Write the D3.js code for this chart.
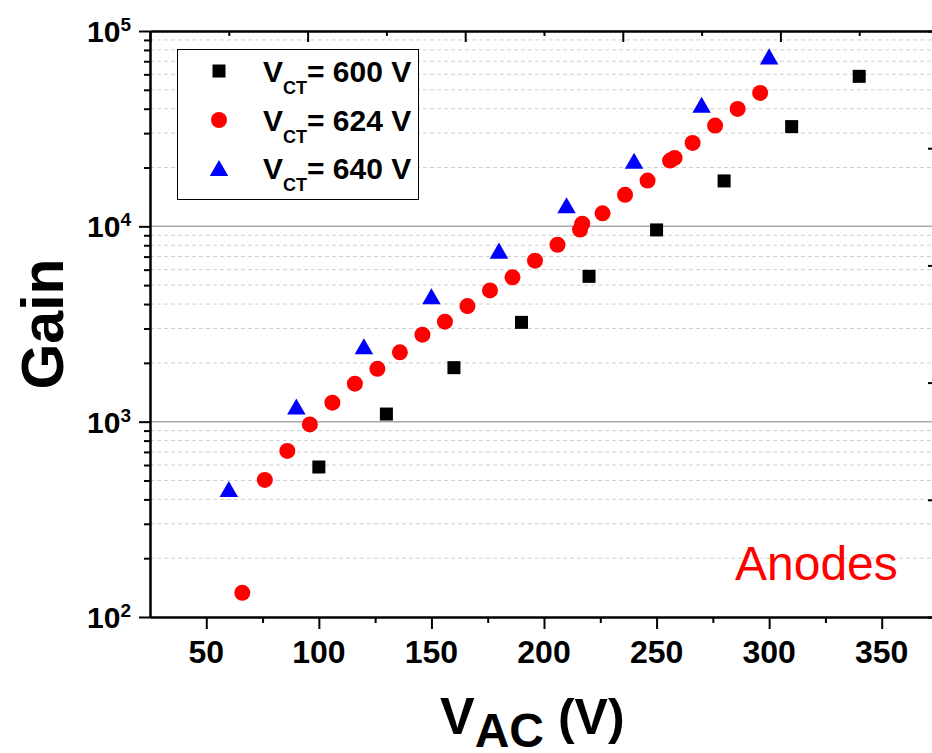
<!DOCTYPE html>
<html>
<head>
<meta charset="utf-8">
<script src="https://cdn.jsdelivr.net/npm/d3@7"></script>
<style>
  body { margin: 0; background: #fff; }
  svg { display: block; }
</style>
</head>
<body>
<div></div>
<script>
// Data
var vac600 = [100, 130, 160, 190, 220, 250, 280, 310, 340];
var gain600 = [586, 1094, 1890, 3224, 5546, 9585, 17080, 32400, 58600];

var vac624 = [66, 76, 86, 96, 106, 116, 126, 136, 146, 156, 166, 176, 186, 196, 206, 216, 217, 226, 236, 246, 256, 258, 266, 276, 286, 296];
var gain624 = [133, 503, 708, 968, 1251, 1565, 1864, 2265, 2790, 3250, 3908, 4699, 5483, 6669, 8050, 9620, 10320, 11660, 14490, 17140, 21700, 22390, 26720, 32780, 39900, 48200];

var vac640 = [60, 90, 120, 150, 180, 210, 240, 270, 300];
var gain640 = [452, 1197, 2430, 4381, 7510, 12810, 21680, 41970, 74150];

var xTicks = [50, 100, 150, 200, 250, 300, 350];
var xMinorTicks = [75, 125, 175, 225, 275, 325];
var yTicks = [100, 1000, 10000, 100000];
var legendLabels = ["600 V", "624 V", "640 V"];

let width = 932;
let height = 753;

let pLeft = 150, pRight = 938, pTop = 31, pBottom = 617;
let font = "'Liberation Sans', Arial, sans-serif";

let svg = d3.select("div").append("svg")
  .attr("width", width)
  .attr("height", height);

let x = d3.scaleLinear().domain([25, 375]).range([pLeft, pRight]);
let y = d3.scaleLog().domain([100, 100000]).range([pBottom, pTop]);

// minor values for grid and ticks
let yMinor = [];
[100, 1000, 10000].forEach(function(dec) {
  for (let k = 2; k <= 9; k++) yMinor.push(dec * k);
});

// Grid
svg.append("g").selectAll("line")
  .data(yMinor)
  .join("line")
  .attr("x1", pLeft).attr("x2", pRight)
  .attr("y1", d => y(d)).attr("y2", d => y(d))
  .style("stroke", "#cfcfcf")
  .style("stroke-width", 1)
  .style("stroke-dasharray", "4,3");

svg.append("g").selectAll("line")
  .data([1000, 10000])
  .join("line")
  .attr("x1", pLeft).attr("x2", pRight)
  .attr("y1", d => y(d)).attr("y2", d => y(d))
  .style("stroke", "#a8a8a8")
  .style("stroke-width", 1.5);

// Axes
function styleAxis(g) {
  g.selectAll("path, line").style("stroke", "#000").style("stroke-width", 2);
}

svg.append("g")
  .attr("transform", "translate(0," + pBottom + ")")
  .call(d3.axisBottom(x).tickValues(xTicks).tickSize(12).tickSizeOuter(0).tickFormat(""))
  .call(styleAxis);
svg.append("g")
  .attr("transform", "translate(0," + pBottom + ")")
  .call(d3.axisBottom(x).tickValues(xMinorTicks).tickSize(6).tickSizeOuter(0).tickFormat(""))
  .call(styleAxis);

svg.append("g").selectAll("text")
  .data(xTicks)
  .join("text")
  .attr("x", d => x(d))
  .attr("y", 663)
  .attr("text-anchor", "middle")
  .style("font-family", font)
  .style("font-weight", 700)
  .style("font-size", "32px")
  .text(d => d);

svg.append("g")
  .attr("transform", "translate(" + pLeft + ",0)")
  .call(d3.axisLeft(y).tickValues(yTicks).tickSize(11).tickSizeOuter(0).tickFormat(""))
  .call(styleAxis);
svg.append("g")
  .attr("transform", "translate(" + pLeft + ",0)")
  .call(d3.axisLeft(y).tickValues(yMinor).tickSize(6).tickSizeOuter(0).tickFormat(""))
  .call(styleAxis);

let yLabels = svg.append("g").selectAll("text")
  .data(yTicks)
  .join("text")
  .attr("x", 131)
  .attr("y", d => y(d) + 11)
  .attr("text-anchor", "end")
  .style("font-family", font)
  .style("font-weight", 700)
  .style("font-size", "30px");
yLabels.append("tspan").text("10");
yLabels.append("tspan")
  .attr("dy", -11)
  .style("font-size", "19px")
  .text(d => Math.round(Math.log10(d)));

// Top and right axes (own linear scales, ticks inward)
let xTop = d3.scaleLinear().domain([0, 5]).range([pLeft, pRight]);
let yRight = d3.scaleLinear().domain([0, 5]).range([pBottom, pTop]);

svg.append("g")
  .attr("transform", "translate(0," + pTop + ")")
  .call(d3.axisBottom(xTop).tickValues([0, 1, 2, 3, 4, 5]).tickSize(11).tickSizeOuter(0).tickFormat(""))
  .call(styleAxis);
svg.append("g")
  .attr("transform", "translate(0," + pTop + ")")
  .call(d3.axisBottom(xTop).tickValues([0.5, 1.5, 2.5, 3.5, 4.5]).tickSize(5).tickSizeOuter(0).tickFormat(""))
  .call(styleAxis);
svg.append("g")
  .attr("transform", "translate(" + pRight + ",0)")
  .call(d3.axisLeft(yRight).tickValues([0, 1, 2, 3, 4, 5]).tickSize(10).tickSizeOuter(0).tickFormat(""))
  .call(styleAxis);

// Axis titles
svg.append("text")
  .attr("transform", "translate(63,324) rotate(-90)")
  .attr("text-anchor", "middle")
  .style("font-family", font)
  .style("font-weight", 700)
  .style("font-size", "59px")
  .text("Gain");

let xTitle = svg.append("text")
  .attr("x", 440)
  .attr("y", 734)
  .style("font-family", font)
  .style("font-weight", 700)
  .style("font-size", "52px");
xTitle.append("tspan").text("V");
xTitle.append("tspan").attr("dy", 13).style("font-size", "48px").text("AC");
xTitle.append("tspan").attr("dy", -13).style("font-size", "50px").text(" (V)");

// Markers
function triPath(s) {
  let h = s * Math.sqrt(3) / 2;
  return "M0," + (-h / 2) + "L" + (s / 2) + "," + (h / 2) + "L" + (-s / 2) + "," + (h / 2) + "Z";
}

svg.append("g").selectAll("rect")
  .data(vac600.map((v, i) => [v, gain600[i]]))
  .join("rect")
  .attr("x", d => x(d[0]) - 6.5)
  .attr("y", d => y(d[1]) - 6.5)
  .attr("width", 13)
  .attr("height", 13)
  .style("fill", "#000");

svg.append("g").selectAll("circle")
  .data(vac624.map((v, i) => [v, gain624[i]]))
  .join("circle")
  .attr("cx", d => x(d[0]))
  .attr("cy", d => y(d[1]))
  .attr("r", 8)
  .style("fill", "#ff0000");

svg.append("g").selectAll("path")
  .data(vac640.map((v, i) => [v, gain640[i]]))
  .join("path")
  .attr("transform", d => "translate(" + x(d[0]) + "," + y(d[1]) + ")")
  .attr("d", triPath(18.5))
  .style("fill", "#0000ff");

// Legend
let legend = svg.append("g");
legend.append("rect")
  .attr("x", 177.5).attr("y", 49.5)
  .attr("width", 241).attr("height", 150)
  .style("fill", "#fff")
  .style("stroke", "#000")
  .style("stroke-width", 1);

let rows = [71, 120, 168];
legend.append("rect")
  .attr("x", 219 - 6.5).attr("y", rows[0] - 6.5)
  .attr("width", 13).attr("height", 13)
  .style("fill", "#000");
legend.append("circle")
  .attr("cx", 219).attr("cy", rows[1]).attr("r", 8)
  .style("fill", "#ff0000");
legend.append("path")
  .attr("transform", "translate(219," + rows[2] + ")")
  .attr("d", triPath(18.5))
  .style("fill", "#0000ff");

legendLabels.forEach(function(lbl, i) {
  let t = legend.append("text")
    .attr("x", 263)
    .attr("y", rows[i] + 11)
    .style("font-family", font)
    .style("font-weight", 700)
    .style("font-size", "30px");
  t.append("tspan").text("V");
  t.append("tspan").attr("dy", 12).style("font-size", "18px").text("CT");
  t.append("tspan").attr("dy", -12).text("= " + lbl);
});

// Annotation
svg.append("text")
  .attr("x", 735)
  .attr("y", 580)
  .style("font-family", font)
  .style("font-size", "48px")
  .style("fill", "#ff0000")
  .text("Anodes");
</script>
</body>
</html>
